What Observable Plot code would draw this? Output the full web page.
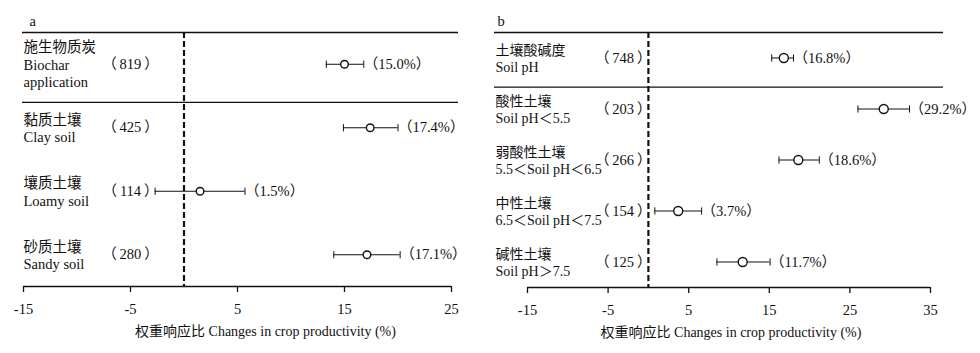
<!DOCTYPE html>
<html>
<head>
<meta charset="utf-8">
<script src="https://cdn.jsdelivr.net/npm/d3@7"></script>
<script src="https://cdn.jsdelivr.net/npm/@observablehq/plot@0.6"></script>
<style>
  html, body { margin: 0; padding: 0; background: #fff; }
  #wrap { display: flex; width: 980px; height: 353px; }
  #wrap svg { font-family: "Liberation Serif", "Noto Sans CJK SC", serif; overflow: visible; }
</style>
</head>
<body>
<div id="wrap"></div>
<script>
// ---------- Panel a data ----------
const labelsA_zh = ["施生物质炭", "黏质土壤", "壤质土壤", "砂质土壤"];
const labelsA_en = ["Biochar\napplication", "Clay soil", "Loamy soil", "Sandy soil"];
const countsA = [819, 425, 114, 280];
const meanA = [15.0, 17.4, 1.5, 17.1];
const lowA = [13.3, 14.9, -2.7, 14.0];
const highA = [16.8, 20.0, 5.7, 20.2];
const ticksA = [-15, -5, 5, 15, 25];

// ---------- Panel b data ----------
const labelsB_zh = ["土壤酸碱度", "酸性土壤", "弱酸性土壤", "中性土壤", "碱性土壤"];
const labelsB_en = ["Soil pH", "Soil pH＜5.5", "5.5＜Soil pH＜6.5", "6.5＜Soil pH＜7.5", "Soil pH＞7.5"];
const countsB = [748, 203, 266, 154, 125];
const meanB = [16.8, 29.2, 18.6, 3.7, 11.7];
const lowB = [15.3, 26.0, 16.2, 0.8, 8.5];
const highB = [18.0, 32.4, 21.2, 6.6, 15.1];
const ticksB = [-15, -5, 5, 15, 25, 35];

const axisTitle = "权重响应比 Changes in crop productivity (%)";

const capSymbol = {
  draw(ctx, size) {
    const h = Math.sqrt(size / Math.PI);
    ctx.moveTo(0, -h);
    ctx.lineTo(0, h);
  }
};

const TS = "\u2009";

function panel(cfg) {
  const rows = cfg.zh.map((z, i) => ({
    i, zh: z, en: cfg.en[i], n: cfg.n[i], m: cfg.mean[i], lo: cfg.lo[i], hi: cfg.hi[i]
  }));
  const nRows = rows.length;
  const ink = "#111";
  return Plot.plot({
    width: 490,
    height: 353,
    marginLeft: cfg.ml,
    marginRight: cfg.mr,
    marginTop: 32,
    marginBottom: cfg.mb,
    style: { fontFamily: '"Liberation Serif", "Noto Sans CJK SC", serif', fontSize: "14px", color: ink, background: "#fff", overflow: "visible" },
    x: { domain: [cfg.ticks[0], cfg.ticks[cfg.ticks.length - 1]], range: cfg.xr },
    y: { domain: [-0.5, nRows - 0.5], reverse: true, axis: null },
    marks: [
      // top line and group separator
      Plot.ruleY([-0.5, cfg.sep], { stroke: ink, strokeWidth: 1.3 }),
      // axis line
      Plot.ruleY([nRows - 0.5], { x1: cfg.ticks[0], x2: cfg.ticks[cfg.ticks.length - 1], stroke: ink, strokeWidth: 1.3 }),
      Plot.axisX({
        ticks: cfg.ticks, tickFormat: d => String(d), tickSize: 6, tickPadding: 11,
        fontSize: 14.5, label: null, stroke: ink, strokeWidth: 1.3
      }),
      // zero reference
      Plot.ruleX([0], { stroke: ink, strokeWidth: 2.2, strokeDasharray: "6,3" }),
      // CI whiskers
      Plot.ruleY(rows, { y: "i", x1: "lo", x2: "hi", stroke: ink, strokeWidth: 1 }),
      Plot.dot(rows, { y: "i", x: "lo", symbol: capSymbol, r: 3.6, stroke: ink, strokeWidth: 1 }),
      Plot.dot(rows, { y: "i", x: "hi", symbol: capSymbol, r: 3.6, stroke: ink, strokeWidth: 1 }),
      // mean points
      Plot.dot(rows, { y: "i", x: "m", r: cfg.r, fill: "#fff", stroke: ink, strokeWidth: 1.4 }),
      // effect labels
      Plot.text(rows, { y: "i", x: "hi", text: d => `（${d.m.toFixed(1)}%）`, textAnchor: "start", dx: 0, fontSize: 14.5, fill: ink }),
      // row labels
      Plot.text(rows, { y: "i", frameAnchor: "left", text: d => `${d.zh}\n${d.en}`, textAnchor: "start", lineAnchor: "middle", lineHeight: 1.2, dx: 1, fontSize: cfg.labelSize, fill: ink }),
      // counts
      Plot.text(rows, { y: "i", frameAnchor: "left", text: d => `（${TS}${d.n}${TS}）`, textAnchor: cfg.countAnchor, dx: cfg.countDx, fontSize: 14.5, fill: ink }),
      // panel letter
      Plot.text([cfg.letter], { frameAnchor: "top-left", dx: cfg.letterDx, dy: -17, fontSize: 14.5, fill: ink }),
      // axis title
      Plot.text([axisTitle], { frameAnchor: "bottom", dx: cfg.titleDx, dy: 49, fontSize: 14, fill: ink })
    ]
  });
}

const wrap = document.getElementById("wrap");
wrap.appendChild(panel({
  zh: labelsA_zh, en: labelsA_en, n: countsA, mean: meanA, lo: lowA, hi: highA, ticks: ticksA,
  ml: 22, mr: 32, mb: 67, xr: [23, 451], sep: 0.6, r: 3.8, labelSize: 14.5,
  countAnchor: "middle", countDx: 108, letter: "a", letterDx: 7, titleDx: 25
}));
wrap.appendChild(panel({
  zh: labelsB_zh, en: labelsB_en, n: countsB, mean: meanB, lo: lowB, hi: highB, ticks: ticksB,
  ml: 4, mr: 37, mb: 66, xr: [37, 440], sep: 0.57, r: 4.5, labelSize: 14,
  countAnchor: "end", countDx: 157, letter: "b", letterDx: 3, titleDx: 12
}));
</script>
</body>
</html>
